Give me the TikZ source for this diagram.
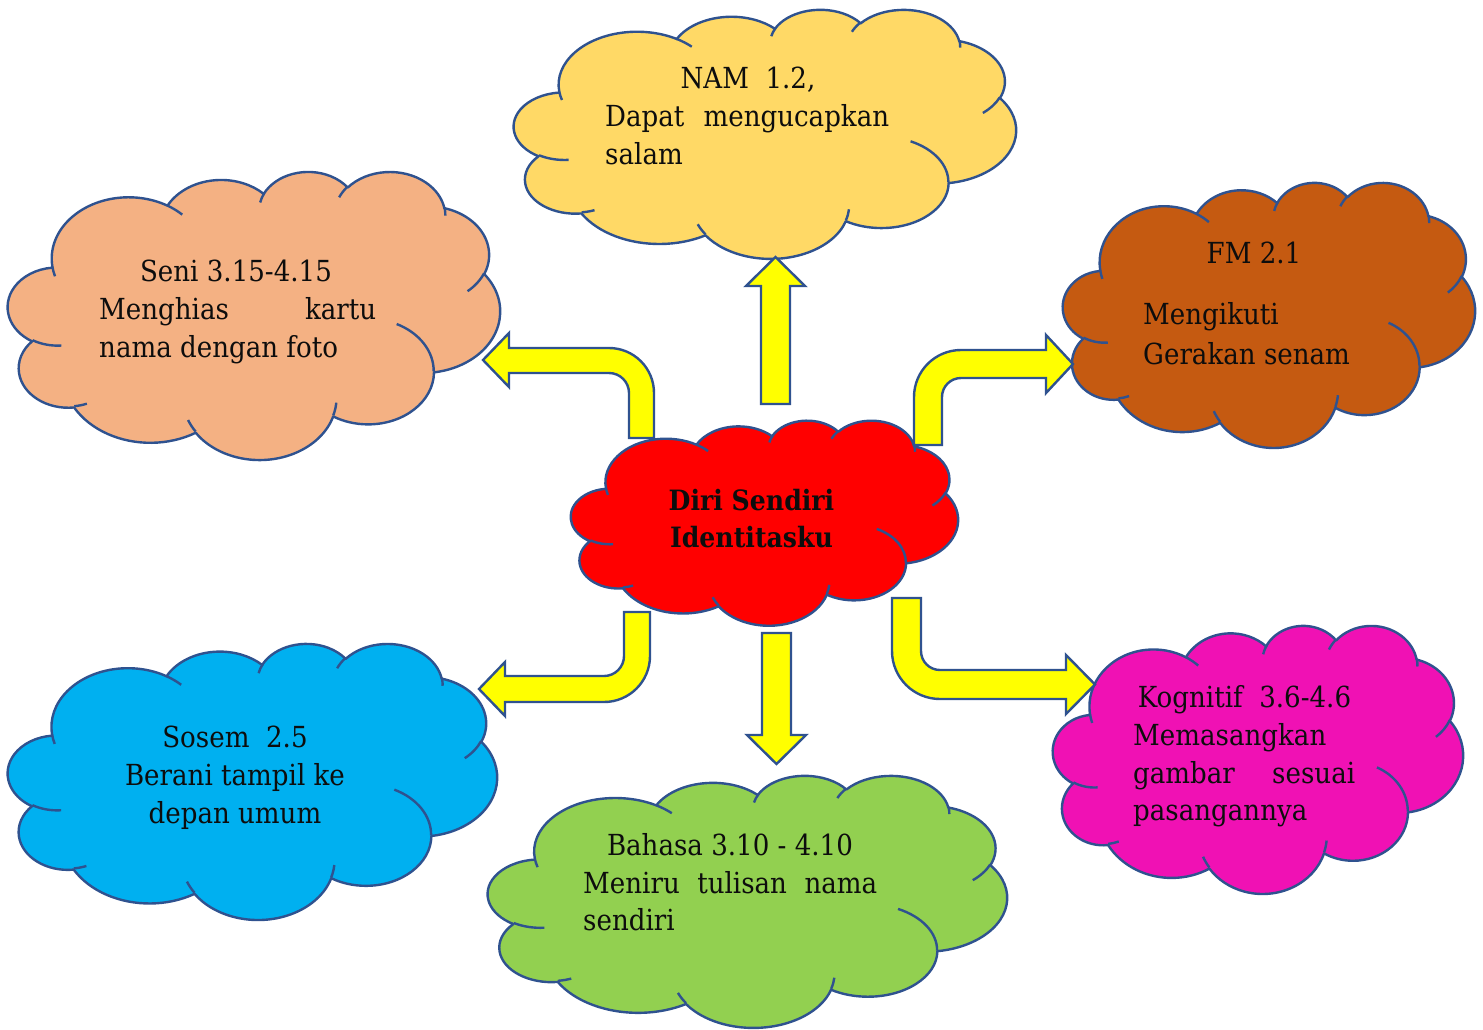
\documentclass[tikz,border=0pt]{standalone}
\usepackage{fontspec}
\setmainfont{DejaVu Serif}[FakeStretch=0.9]
\definecolor{edge}{HTML}{2F528F}
\definecolor{cNam}{HTML}{FFD966}
\definecolor{cSeni}{HTML}{F4B183}
\definecolor{cFm}{HTML}{C55A11}
\definecolor{cMid}{HTML}{FF0000}
\definecolor{cSosem}{HTML}{00B0F0}
\definecolor{cBahasa}{HTML}{92D050}
\definecolor{cKog}{HTML}{F011B4}
\definecolor{cArrow}{HTML}{FFFF00}
\definecolor{ink}{HTML}{0D0D0D}
\tikzset{
  cloudline/.style={draw=edge, line width=2.4pt, line join=round},
  blockarrow/.style={draw=edge, fill=cArrow, line width=2.4pt, line join=miter},
  txt/.style={inner sep=0pt, font=\fontsize{29}{38}\selectfont, text=ink},
  boldtxt/.style={inner sep=0pt, font=\fontsize{28}{37}\selectfont\bfseries, text=ink},
}
% Office "cloud" preset, frame origin (#1,#2), size #3 x #4, fill #5
\newcommand\mycloud[5]{%
\begin{scope}[shift={(#1,#2)},xscale=#3/43.2,yscale=#4/43.2]
\filldraw[cloudline,fill=#5] (3.9,14.37)
  \foreach \ca/\cb/\cc/\cd in {6.753/9.19/-190.4875/123.7805,
     5.333/7.267/-144.1024/89.9452, 4.365/5.945/-145.8079/99.7230,
     4.857/6.595/-130.9861/117.2417, 5.333/7.273/-78.7089/109.0269,
     6.775/9.22/-46.2673/130.2690, 5.785/7.867/0.6250/114.0333,
     6.752/9.215/22.4516/115.1726, 7.72/10.543/66.2426/75.7110,
     4.36/5.918/-274.9421/146.7356, 4.345/5.945/-246.8285/152.5189}
  { arc[x radius=\ca, y radius=\cb,
        start angle={atan2(\ca*sin(\cc),\cb*cos(\cc))},
        delta angle={mod(atan2(\ca*sin(\cc+\cd),\cb*cos(\cc+\cd))-atan2(\ca*sin(\cc),\cb*cos(\cc))+720,360)}] }
  -- cycle;
\foreach \px/\py/\ca/\cb/\cc/\cd in {4.693/26.177/4.345/5.945/86.742/26.4295,
     6.928/34.899/4.36/5.918/73.6105/11.4475,
     16.478/39.09/6.752/9.215/137.6242/14.0811,
     28.827/34.751/6.752/9.215/6.4533/15.9984,
     34.129/22.954/5.785/7.867/-70.2924/70.9174,
     41.798/15.354/5.333/7.273/30.318/27.7515,
     38.324/5.426/4.857/6.595/-13.7443/14.8589,
     29.078/3.952/4.857/6.595/-149.1815/18.1954,
     22.141/4.72/4.365/5.945/-163.4943/17.6864,
     14.0/5.192/6.753/9.19/-66.707/12.3194,
     4.127/15.789/6.753/9.19/157.6544/11.8582}
  {\draw[cloudline] (\px,\py) arc[x radius=\ca, y radius=\cb,
        start angle={atan2(\ca*sin(\cc),\cb*cos(\cc))},
        delta angle={mod(atan2(\ca*sin(\cc+\cd),\cb*cos(\cc+\cd))-atan2(\ca*sin(\cc),\cb*cos(\cc))+720,360)}];}
\end{scope}}
\begin{document}
\begin{tikzpicture}[yscale=-1, x=1pt, y=1pt]
\useasboundingbox (0,0) rectangle (1483,1029);

% clouds
\mycloud{514}{9}{502}{249}{cNam}
\mycloud{8}{171}{492}{288}{cSeni}
\mycloud{1063}{182}{412}{265}{cFm}
\mycloud{571}{420}{387}{205}{cMid}
\mycloud{8}{643}{489}{276}{cSosem}
\mycloud{488}{775}{519}{252}{cBahasa}
\mycloud{1053}{625}{410}{268}{cKog}

% block arrows
\draw[blockarrow] (761,404) -- (761,286) -- (746,286) -- (775.5,257) -- (805,286) -- (790,286) -- (790,404) -- cycle;
\draw[blockarrow] (762,633) -- (762,735) -- (747,735) -- (776.5,764) -- (806,735) -- (791,735) -- (791,633) -- cycle;
\draw[blockarrow] (629,438) -- (629,393) arc[start angle=0,end angle=-90,radius=20]
  -- (509,373) -- (509,387) -- (483,360) -- (509,333) -- (509,348) -- (609,348)
  arc[start angle=-90,end angle=0,radius=45] -- (654,438) -- cycle;
\draw[blockarrow] (914,445) -- (914,397) arc[start angle=180,end angle=270,radius=47]
  -- (1046,350) -- (1046,335) -- (1073,364) -- (1046,393) -- (1046,378) -- (961,378)
  arc[start angle=270,end angle=180,radius=19] -- (942,445) -- cycle;
\draw[blockarrow] (624,612) -- (624,656) arc[start angle=0,end angle=90,radius=20]
  -- (505,676) -- (505,662) -- (479,689) -- (505,716) -- (505,702) -- (604,702)
  arc[start angle=90,end angle=0,radius=46] -- (650,612) -- cycle;
\draw[blockarrow] (892,598) -- (892,651) arc[start angle=180,end angle=90,radius=48]
  -- (1066,699) -- (1066,714) -- (1095,684.5) -- (1066,655) -- (1066,670) -- (940,670)
  arc[start angle=90,end angle=180,radius=19] -- (921,598) -- cycle;

% texts
\node[txt, anchor=base] (namA) at (748,88) {NAM\ \ 1.2,};
\node[txt, anchor=base west] (namB) at (605,126) {\hbox to 284pt{Dapat\hfill mengucapkan}};
\node[txt, anchor=base west] (namC) at (605,164) {salam};

\node[txt, anchor=base] (seniA) at (236,281) {Seni 3.15-4.15};
\node[txt, anchor=base west] (seniB) at (99,319) {\hbox to 277pt{Menghias\hfill kartu}};
\node[txt, anchor=base west] (seniC) at (99,357) {nama dengan foto};

\node[txt, anchor=base] (fmA) at (1254,263) {FM 2.1};
\node[txt, anchor=base west] (fmB) at (1143,324) {Mengikuti};
\node[txt, anchor=base west] (fmC) at (1143,364) {Gerakan senam};

\node[boldtxt, anchor=base] (midA) at (751.5,510) {Diri Sendiri};
\node[boldtxt, anchor=base] (midB) at (751.5,547) {Identitasku};

\node[txt, anchor=base] (sosA) at (235,747) {Sosem\ \ 2.5};
\node[txt, anchor=base] (sosB) at (235,785) {Berani tampil ke};
\node[txt, anchor=base] (sosC) at (235,823) {depan umum};

\node[txt, anchor=base] (bahA) at (730,855) {Bahasa 3.10 - 4.10};
\node[txt, anchor=base west] (bahB) at (583,893) {\hbox to 294pt{Meniru\hfill tulisan\hfill nama}};
\node[txt, anchor=base west] (bahC) at (583,930) {sendiri};

\node[txt, anchor=base] (kogA) at (1244.5,707) {Kognitif\ \ 3.6-4.6};
\node[txt, anchor=base west] (kogB) at (1133,745) {Memasangkan};
\node[txt, anchor=base west] (kogC) at (1133,783) {\hbox to 222pt{gambar\hfill sesuai}};
\node[txt, anchor=base west] (kogD) at (1133,820) {pasangannya};
\end{tikzpicture}
\end{document}
